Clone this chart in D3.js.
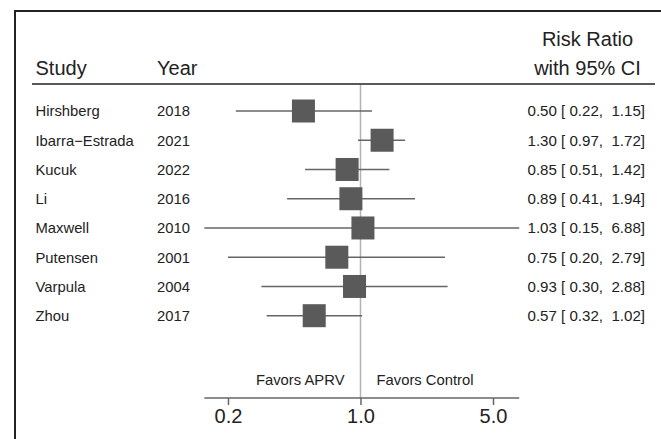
<!DOCTYPE html>
<html><head><meta charset="utf-8">
<script src="https://cdn.jsdelivr.net/npm/d3@7"></script>
<style>
html,body{margin:0;padding:0;background:#fff;}
svg{display:block;font-family:"Liberation Sans",Arial,Helvetica,sans-serif;}
text{white-space:pre;}
</style></head>
<body>
<svg id="c" width="661" height="439"></svg>
<script>
const studies = ["Hirshberg","Ibarra\u2212Estrada","Kucuk","Li","Maxwell","Putensen","Varpula","Zhou"];
const years = [2018,2021,2022,2016,2010,2001,2004,2017];
const rr = [0.50,1.30,0.85,0.89,1.03,0.75,0.93,0.57];
const lower = [0.22,0.97,0.51,0.41,0.15,0.20,0.30,0.32];
const upper = [1.15,1.72,1.42,1.94,6.88,2.79,2.88,1.02];
const weights = [1,1,1,1,1,1,1,1];
const tickVals = [0.2,1.0,5.0];
const headers = {study:"Study", year:"Year", rr1:"Risk Ratio", rr2:"with 95% CI"};
const favors = ["Favors APRV","Favors Control"];

const svg = d3.select("#c");
const dark = "#222", lineCol = "#666", boxCol = "#5a5a5a", refCol = "#b3b3b3";

// frame
svg.append("path").attr("d","M15,439 L15,11 L661,11").attr("fill","none").attr("stroke",dark).attr("stroke-width",2);

const x = d3.scaleLog().domain([0.2,5]).range([228,493]);
const y = d3.scaleLinear().domain([0,7]).range([111,315.7]);
const axisY = 398;

// headers
svg.append("text").attr("x",35.5).attr("y",74.5).attr("font-size",20).attr("fill",dark).text(headers.study);
svg.append("text").attr("x",157).attr("y",74.5).attr("font-size",20).attr("fill",dark).text(headers.year);
svg.append("text").attr("x",587.5).attr("y",45.7).attr("font-size",20).attr("text-anchor","middle").attr("fill",dark).text(headers.rr1);
svg.append("text").attr("x",587.5).attr("y",74.5).attr("font-size",20).attr("text-anchor","middle").attr("fill",dark).text(headers.rr2);
svg.append("line").attr("x1",32).attr("x2",655).attr("y1",84).attr("y2",84).attr("stroke",dark).attr("stroke-width",1.5);

// reference line
svg.append("line").attr("x1",x(1)).attr("x2",x(1)).attr("y1",85).attr("y2",axisY).attr("stroke",refCol).attr("stroke-width",1.5);

const idx = d3.range(studies.length);
const sq = 23;
// CI lines
svg.append("g").selectAll("line").data(idx).join("line")
  .attr("x1",i=>x(lower[i])).attr("x2",i=>x(upper[i]))
  .attr("y1",i=>y(i)).attr("y2",i=>y(i))
  .attr("stroke",lineCol).attr("stroke-width",1.5);
// squares
svg.append("g").selectAll("rect").data(idx).join("rect")
  .attr("x",i=>x(rr[i])-sq*weights[i]/2).attr("y",i=>y(i)-sq*weights[i]/2)
  .attr("width",i=>sq*weights[i]).attr("height",i=>sq*weights[i])
  .attr("fill",boxCol);

// row labels
const rows = svg.append("g").attr("font-size",14.8).attr("fill",dark);
rows.selectAll("text.s").data(idx).join("text").attr("class","s")
  .attr("x",35.5).attr("y",i=>y(i)+5.4).text(i=>studies[i]);
rows.selectAll("text.yr").data(idx).join("text").attr("class","yr")
  .attr("x",157).attr("y",i=>y(i)+5.4).text(i=>years[i]);
const f2 = d3.format(".2f");
const pad = v => (v < 10 ? " " : "") + f2(v);
rows.selectAll("text.v").data(idx).join("text").attr("class","v")
  .attr("x",645).attr("y",i=>y(i)+5.4).attr("text-anchor","end").attr("font-size",15.1)
  .text(i=>`${f2(rr[i])} [${pad(lower[i])}, ${pad(upper[i])}]`);

// favors
svg.append("text").attr("x",x(1)-16).attr("y",385).attr("font-size",14.8).attr("text-anchor","end").attr("fill",dark).text(favors[0]);
svg.append("text").attr("x",x(1)+16).attr("y",385).attr("font-size",14.8).attr("fill",dark).text(favors[1]);

// axis
const minL = d3.min(lower), maxU = d3.max(upper);
svg.append("line").attr("x1",x(minL)).attr("x2",x(maxU)).attr("y1",axisY).attr("y2",axisY).attr("stroke",lineCol).attr("stroke-width",1.5);
const ax = svg.append("g").attr("transform",`translate(0,${axisY})`)
  .call(d3.axisBottom(x).tickValues(tickVals).tickFormat(d3.format(".1f")).tickSize(7).tickPadding(4));
ax.select(".domain").remove();
ax.selectAll(".tick line").attr("stroke",lineCol).attr("stroke-width",1.5);
ax.selectAll(".tick text").attr("font-size",20).attr("fill",dark).attr("font-family","\"Liberation Sans\",Arial,sans-serif");
</script>
</body></html>
